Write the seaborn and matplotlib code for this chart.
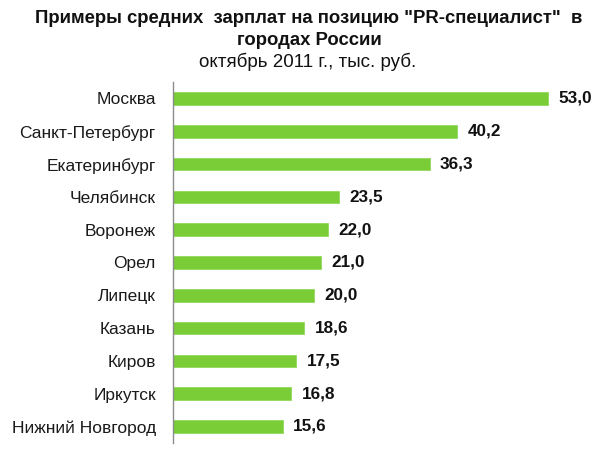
import matplotlib
matplotlib.use("Agg")
import matplotlib.pyplot as plt
import seaborn as sns
import pandas as pd
import numpy as np

cities = ["Москва", "Санкт-Петербург", "Екатеринбург", "Челябинск", "Воронеж",
          "Орел", "Липецк", "Казань", "Киров", "Иркутск", "Нижний Новгород"]
salaries = [53.0, 40.2, 36.3, 23.5, 22.0, 21.0, 20.0, 18.6, 17.5, 16.8, 15.6]
value_labels = ["53,0", "40,2", "36,3", "23,5", "22,0", "21,0", "20,0", "18,6", "17,5", "16,8", "15,6"]

sns.set_style("white")
plt.rcParams['font.family'] = ['Liberation Sans', 'DejaVu Sans']

df = pd.DataFrame({"city": cities, "salary": salaries})

fig = plt.figure(figsize=(6.0, 4.51), dpi=100)
ax = fig.add_axes([0.2875, 0.018, 0.708, 0.8])

sns.barplot(data=df, x="salary", y="city", ax=ax, color="#7acd36",
            saturation=1, width=0.38, edgecolor="#90d85c", linewidth=0.6)

ax.set_xlim(0, 60)
ax.set_ylim(len(cities) - 0.5, -0.5)
ax.set_xlabel("")
ax.set_ylabel("")
ax.set_xticks([])
for s in ["top", "right", "bottom"]:
    ax.spines[s].set_visible(False)
ax.spines["left"].set_color("#8c8c8c")
ax.spines["left"].set_linewidth(1.0)

ax.tick_params(axis="y", which="major", length=0, pad=12, labelsize=12.5, labelcolor="#1a1a1a")
ax.set_yticks(np.arange(-0.5, len(cities), 1.0), minor=True)
ax.tick_params(axis="y", which="minor", length=4, color="#8c8c8c", direction="out")

for i, (v, lab) in enumerate(zip(salaries, value_labels)):
    ax.annotate(lab, xy=(v, i), xytext=(7.5, 0), textcoords="offset points",
                ha="left", va="center", fontsize=12.3, fontweight="bold", color="#111111")

fig.text(0.515, 0.96, 'Примеры средних  зарплат на позицию "PR-специалист"  в',
         ha="center", va="center", fontsize=13.3, fontweight="bold", color="#111111")
fig.text(0.515, 0.911, "городах России", ha="center", va="center",
         fontsize=13.3, fontweight="bold", color="#111111")
fig.text(0.513, 0.862, "октябрь 2011 г., тыс. руб.", ha="center", va="center",
         fontsize=13.5, color="#111111")

fig.savefig("out.png", dpi=100, facecolor="white")
